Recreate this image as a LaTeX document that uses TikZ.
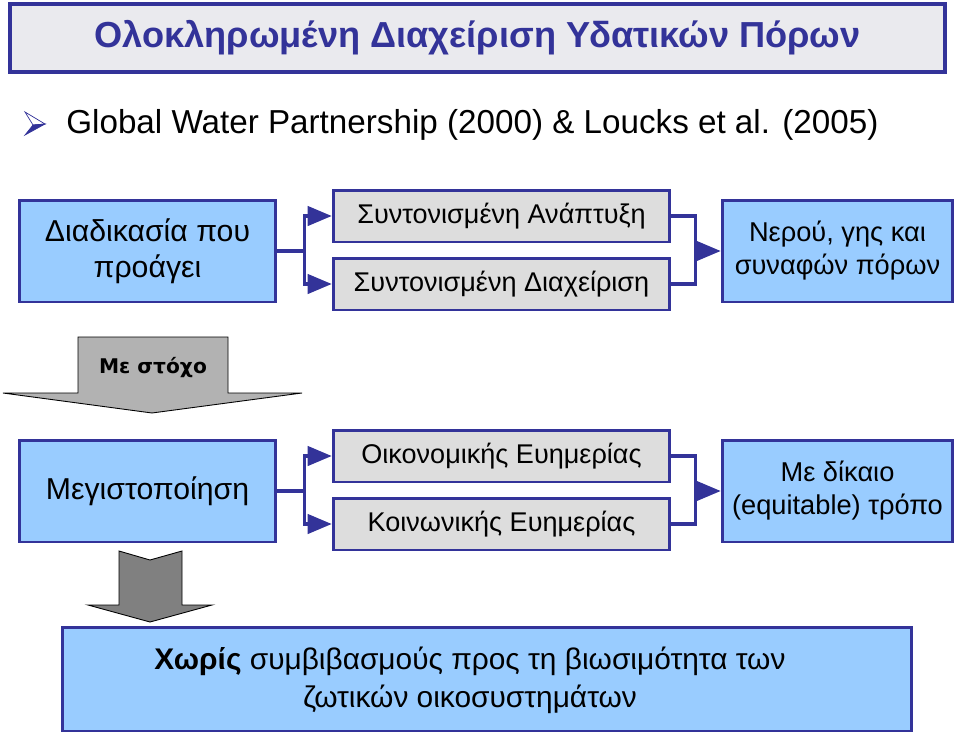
\documentclass[tikz,border=0pt]{standalone}
\usepackage{fontspec}
\setmainfont{Liberation Sans}
\newfontfamily\verdana{DejaVu Sans}
\usepackage{xcolor}
\usetikzlibrary{arrows, calc, positioning}
\definecolor{navy}{HTML}{333399}
\definecolor{skyfill}{HTML}{99CCFF}
\definecolor{greyfill}{HTML}{DDDDDD}
\definecolor{titlefill}{HTML}{EAEAEE}
\tikzstyle{bluebox} = [draw=navy, line width=1.7pt, fill=skyfill, minimum width=5.14cm, minimum height=2.04cm, align=center, inner sep=0pt, font=\fontsize{17.2}{20.5}\selectfont]
\tikzstyle{greybox} = [draw=navy, line width=1.7pt, fill=greyfill, minimum width=6.74cm, minimum height=1.04cm, align=center, inner sep=0pt, font=\fontsize{15.4}{18}\selectfont]
\tikzstyle{link} = [draw=navy, line width=2.2pt]
\tikzstyle{arrow} = [link,->,>=triangle 45]

\begin{document}
\begin{tikzpicture}[x=0.02cm, y=-0.02cm]
\useasboundingbox (0,0) rectangle (960,737);

% Header
\node[draw=navy, line width=2.2pt, fill=titlefill, minimum width=18.7cm, minimum height=1.36cm, inner sep=0pt,
  font=\fontsize{20.6}{24}\selectfont\bfseries, text=navy] (title) at (477.5,38) {Ολοκληρωμένη Διαχείριση Υδατικών Πόρων};

% Bullet line
\filldraw[draw=navy, fill=white, line width=0.4pt] (25,112) -- (45,124) -- (33,125) -- cycle;
\filldraw[draw=navy, fill=navy, line width=0.4pt] (33,125) -- (45,124) -- (25,135) -- cycle;
\node[anchor=west, inner sep=0pt, font=\fontsize{18.9}{22}\selectfont] (source) at (66,125) {Global Water Partnership (2000) \& Loucks et al. (2005)};

% First row
\node[bluebox] (process) at (147.5,251) {Διαδικασία που\\προάγει};
\node[greybox] (develop) at (501.5,216) {Συντονισμένη Ανάπτυξη};
\node[greybox] (manage) at (501.5,284) {Συντονισμένη Διαχείριση};
\node[bluebox, minimum width=4.62cm, font=\fontsize{15.5}{18.8}\selectfont] (resources) at (837.5,251) {Νερού, γης και\\συναφών πόρων};

\coordinate (split1) at ($(process.east)+(27,0)$);
\coordinate (merge1) at ($(resources.west)+(-25,0)$);
\draw[arrow] (process.east) -- (split1) |- (develop.west);
\draw[arrow] (split1) |- (manage.west);
\draw[link] (develop.east) -| (merge1) |- (manage.east);
\draw[arrow] (merge1) -- (resources.west);

% Goal arrow
\filldraw[draw=black, fill=black!30, line width=0.5pt] (78,337) -- (228,337) -- (228,393) -- (302,393) -- (152,413) -- (3,393) -- (78,393) -- cycle;
\node[font=\verdana\fontsize{11.5}{14}\selectfont\bfseries] (goal) at (153,368) {Με στόχο};

% Second row
\node[bluebox] (maximize) at (147.5,491) {Μεγιστοποίηση};
\node[greybox] (economic) at (501.5,456) {Οικονομικής Ευημερίας};
\node[greybox] (social) at (501.5,524) {Κοινωνικής Ευημερίας};
\node[bluebox, minimum width=4.62cm, font=\fontsize{15.5}{18.8}\selectfont] (equity) at (837.5,491) {Με δίκαιο\\(equitable) τρόπο};

\coordinate (split2) at ($(maximize.east)+(27,0)$);
\coordinate (merge2) at ($(equity.west)+(-25,0)$);
\draw[arrow] (maximize.east) -- (split2) |- (economic.west);
\draw[arrow] (split2) |- (social.west);
\draw[link] (economic.east) -| (merge2) |- (social.east);
\draw[arrow] (merge2) -- (equity.west);

% Down arrow
\filldraw[draw=black, fill=black!50, line width=0.5pt] (119,551) -- (150,560) -- (182,551) -- (182,605) -- (212,605) -- (150,622) -- (88,605) -- (119,605) -- cycle;

% Bottom box
\node[bluebox, minimum width=17cm, minimum height=2.08cm] (ecosystems) at (487,679) {};
\node[align=center, inner sep=0pt, font=\fontsize{17}{21.5}\selectfont] (ecotext) at (470,680)
  {\textbf{Χωρίς} συμβιβασμούς προς τη βιωσιμότητα των\\ζωτικών οικοσυστημάτων};
\end{tikzpicture}
\end{document}
